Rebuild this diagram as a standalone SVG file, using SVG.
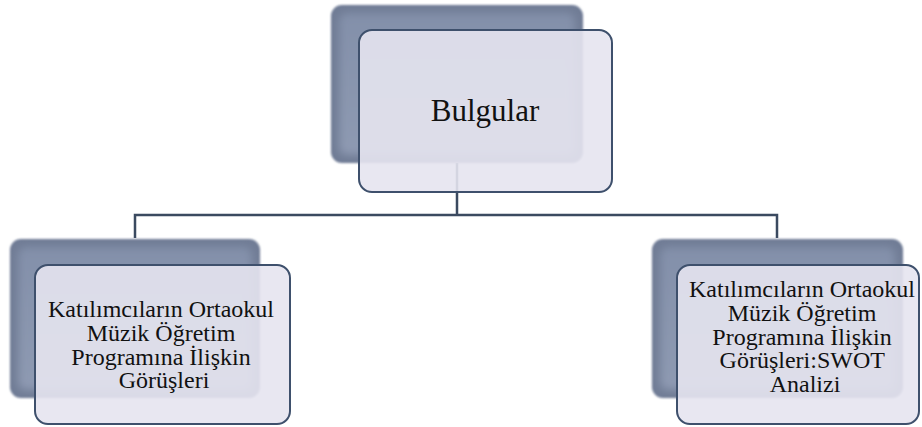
<svg xmlns="http://www.w3.org/2000/svg" width="922" height="427" viewBox="0 0 922 427">
<defs>
<filter id="soft" x="-5%" y="-5%" width="110%" height="110%"><feGaussianBlur stdDeviation="1"/></filter>
<filter id="inner" x="-10%" y="-10%" width="120%" height="120%"><feGaussianBlur stdDeviation="4"/></filter>
<linearGradient id="backg" x1="0" y1="0" x2="0" y2="1">
<stop offset="0" stop-color="#8390AA"/>
<stop offset="1" stop-color="#8E9AB2"/>
</linearGradient>
</defs>
<style>
.back-o{fill:#6F7B95;}
.back-i{fill:url(#backg);}
.front{fill:#E6E4EF;fill-opacity:0.9;stroke:#3E506C;stroke-width:2;}
.conn{fill:none;stroke:#3B4A60;stroke-width:2.5;}
.t{font-family:"Liberation Serif","Times New Roman",serif;fill:#111;text-anchor:middle;}
</style>
<g id="connectors">
<path class="conn" d="M457 163 V215 M135 238 V215 H777 V238"/>
</g>
<g id="node-bulgular">
<g filter="url(#soft)">
<rect class="back-o" x="331" y="5" width="252" height="158" rx="11"/>
</g>
<rect class="back-i" x="339" y="13" width="236" height="142" rx="8" filter="url(#inner)"/>
<rect class="front" x="359" y="30" width="253" height="162" rx="13"/>
<text class="t" x="485" y="121" font-size="31">Bulgular</text>
</g>
<g id="node-left">
<g filter="url(#soft)">
<rect class="back-o" x="10" y="239" width="250" height="159" rx="11"/>
</g>
<rect class="back-i" x="18" y="247" width="234" height="143" rx="8" filter="url(#inner)"/>
<rect class="front" x="35" y="265" width="255" height="159" rx="13"/>
<text class="t" font-size="24">
<tspan x="164" y="317">Katılımcıların Ortaokul</tspan>
<tspan x="164" y="341">Müzik Öğretim</tspan>
<tspan x="164" y="364.5">Programına İlişkin</tspan>
<tspan x="164" y="388">Görüşleri</tspan>
</text>
</g>
<g id="node-right">
<g filter="url(#soft)">
<rect class="back-o" x="652" y="239" width="251" height="159" rx="11"/>
</g>
<rect class="back-i" x="660" y="247" width="235" height="143" rx="8" filter="url(#inner)"/>
<rect class="front" x="677" y="265" width="242" height="159" rx="13"/>
<text class="t" font-size="24">
<tspan x="805" y="297">Katılımcıların Ortaokul</tspan>
<tspan x="805" y="320.5">Müzik Öğretim</tspan>
<tspan x="805" y="344.5">Programına İlişkin</tspan>
<tspan x="805" y="368">Görüşleri:SWOT</tspan>
<tspan x="805" y="392">Analizi</tspan>
</text>
</g>
</svg>
